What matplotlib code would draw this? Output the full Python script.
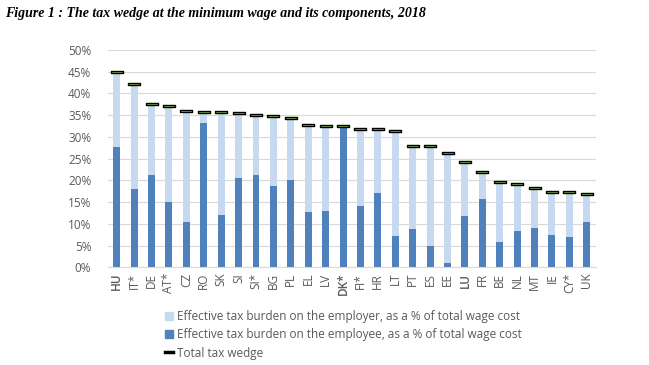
import matplotlib
matplotlib.use("Agg")
import matplotlib.pyplot as plt
import numpy as np
from matplotlib.path import Path
from matplotlib.patches import Patch
from matplotlib.lines import Line2D

countries = ["HU", "IT*", "DE", "AT*", "CZ", "RO", "SK", "SI", "SI*", "BG", "PL", "EL", "LV", "DK*",
             "FI*", "HR", "LT", "PT", "ES", "EE", "LU", "FR", "BE", "NL", "MT", "IE", "CY*", "UK"]
total = [45.0, 42.1, 37.6, 37.2, 35.9, 35.7, 35.7, 35.5, 35.1, 34.8, 34.4, 32.8, 32.6, 32.6,
         31.8, 31.8, 31.3, 28.0, 27.9, 26.4, 24.2, 21.9, 19.6, 19.2, 18.3, 17.4, 17.3, 16.8]
employee = [27.6, 18.0, 21.2, 15.0, 10.4, 33.3, 12.0, 20.6, 21.2, 18.8, 20.0, 12.7, 13.0, 32.4,
            14.1, 17.0, 7.3, 8.8, 4.8, 1.1, 11.8, 15.7, 5.8, 8.4, 9.0, 7.4, 6.9, 10.4]
employer = [round(t - e, 2) for t, e in zip(total, employee)]
yticks = [0, 5, 10, 15, 20, 25, 30, 35, 40, 45, 50]
bold_labels = {"HU", "DK*", "LU"}

light = "#C6D9F1"
dark = "#4F81BD"
gray = "#595959"

plt.rcParams['font.family'] = ['Open Sans', 'DejaVu Sans']

fig = plt.figure(figsize=(6.49, 3.65), dpi=100)
ax = fig.add_axes([108/649, 1 - 267.3/365, 487.5/649, 217.3/365])

x = np.arange(len(countries))
ax.bar(x, employee, width=0.4, color=dark, zorder=2,
       label="Effective tax burden on the employee, as a % of total wage cost")
ax.bar(x, employer, bottom=employee, width=0.4, color=light, zorder=2,
       label="Effective tax burden on the employer, as a % of total wage cost")

rect = Path([(-1, -0.2), (1, -0.2), (1, 0.2), (-1, 0.2), (-1, -0.2)],
            [Path.MOVETO, Path.LINETO, Path.LINETO, Path.LINETO, Path.CLOSEPOLY])
ax.plot(x, total, linestyle="none", marker=rect, markersize=9.0, markerfacecolor="#92D050",
        markeredgecolor="black", markeredgewidth=1.0, zorder=3)

ax.set_xlim(-0.5, len(countries) - 0.5)
ax.set_ylim(0, 50)
ax.set_yticks(yticks)
ax.set_yticklabels([f"{v}%" for v in yticks], color=gray, fontsize=8.5)
ax.set_xticks(x)
ax.set_xticklabels(countries, rotation=90, color=gray, fontsize=8.5)
for lbl in ax.get_xticklabels():
    if lbl.get_text() in bold_labels:
        lbl.set_fontweight("semibold")
ax.tick_params(axis="y", length=0, pad=12)
ax.tick_params(axis="x", length=0, pad=4)
ax.grid(axis="y", color="#D9D9D9", linewidth=0.8, zorder=0)
for s in ["top", "right", "left"]:
    ax.spines[s].set_visible(False)
ax.spines["bottom"].set_color("#D9D9D9")

handles = [Patch(color=light), Patch(color=dark), Line2D([0], [0], color="black", linewidth=2.5)]
labels = ["Effective tax burden on the employer, as a % of total wage cost",
          "Effective tax burden on the employee, as a % of total wage cost",
          "Total tax wedge"]
fig.legend(handles, labels, loc="upper left", bbox_to_anchor=(165/649, 1 - 310/365),
           frameon=False, fontsize=8.5, labelcolor=gray, handlelength=0.7, handleheight=0.7,
           handletextpad=0.3, labelspacing=0.45, borderaxespad=0, borderpad=0)

fig.text(5/649, 1 - 14/365, "Figure 1 : The tax wedge at the minimum wage and its components, 2018",
         family=["Liberation Serif", "DejaVu Serif"], style="italic", weight="bold",
         fontsize=10, va="center", ha="left")

fig.savefig("out.png", dpi=100)
